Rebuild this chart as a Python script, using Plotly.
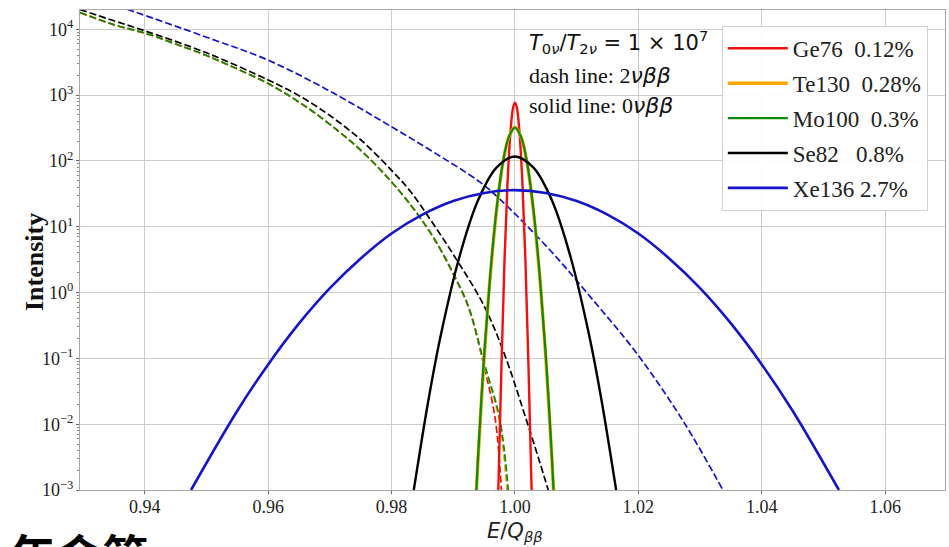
import plotly.graph_objects as go

# ---------------- 2νββ continua (dashed) ----------------
ge76_2v_x = [0.9295, 0.935, 0.94, 0.945, 0.95, 0.955, 0.96, 0.965, 0.97, 0.975, 0.98,
             0.984, 0.987, 0.99, 0.9925, 0.995, 0.9968, 0.9978]
ge76_2v_y = [1.8e4, 1.17e4, 8.7e3, 6.0e3, 4.0e3, 2.5e3, 1.5e3, 780, 360, 145, 48,
             16.5, 6.3, 1.9, 0.58, 0.075, 0.012, 0.001]

te130_2v_x = [0.9295, 0.935, 0.94, 0.945, 0.95, 0.955, 0.96, 0.965, 0.97, 0.975, 0.98,
              0.984, 0.987, 0.99, 0.9925, 0.995, 0.9974, 0.9987]
te130_2v_y = [1.8e4, 1.18e4, 8.8e3, 6.0e3, 4.0e3, 2.5e3, 1.5e3, 790, 360, 146, 48,
              16.6, 6.4, 1.95, 0.6, 0.082, 0.012, 0.001]

mo100_2v_x = [0.9295, 0.935, 0.94, 0.945, 0.95, 0.955, 0.96, 0.965, 0.97, 0.975, 0.98,
              0.984, 0.987, 0.99, 0.9925, 0.995, 0.9975, 0.9989]
mo100_2v_y = [1.8e4, 1.18e4, 8.8e3, 6.0e3, 4.0e3, 2.5e3, 1.5e3, 790, 360, 146, 48,
              16.6, 6.4, 1.95, 0.6, 0.085, 0.0125, 0.001]

se82_2v_x = [0.9295, 0.935, 0.94, 0.95, 0.96, 0.965, 0.97, 0.975, 0.98, 0.983,
             0.9865, 0.9905, 0.9948, 0.9981, 1.0024, 1.0054]
se82_2v_y = [2.0e4, 1.35e4, 9.5e3, 4.4e3, 1.7e3, 980, 490, 210, 72, 35,
             12, 3.2, 0.68, 0.13, 0.008, 0.001]

xe136_2v_x = [0.9295, 0.9376, 0.95, 0.96, 0.97, 0.98, 0.9867, 0.9943, 0.9976,
              1.0057, 1.0127, 1.0198, 1.0273, 1.0337]
xe136_2v_y = [3.5e4, 1.95e4, 7.6e3, 3.4e3, 1.15e3, 330, 138, 48, 26,
              4.4, 0.76, 0.117, 0.011, 0.001]

# ---------------- 0νββ peaks (solid) ----------------
ge76_0v_x = [0.9973, 0.9978, 0.9983, 0.9988, 0.9993, 0.9997, 1.0,
             1.0003, 1.0007, 1.0012, 1.0017, 1.0022, 1.0027]
ge76_0v_y = [0.001, 0.07, 3.0, 48, 300, 650, 770, 650, 300, 48, 3.0, 0.07, 0.001]

te130_0v_x = [0.99375, 0.994, 0.995, 0.996, 0.997, 0.998, 0.999, 1.0,
              1.001, 1.002, 1.003, 1.004, 1.005, 1.006, 1.00625]
te130_0v_y = [0.001, 0.0028, 0.1, 1.8, 17, 88, 230, 325,
              230, 88, 17, 1.8, 0.1, 0.0028, 0.001]

mo100_0v_x = [0.99375, 0.994, 0.995, 0.996, 0.997, 0.998, 0.999, 1.0,
              1.001, 1.002, 1.003, 1.004, 1.005, 1.006, 1.00625]
mo100_0v_y = [0.001, 0.003, 0.11, 1.9, 18, 90, 230, 320,
              230, 90, 18, 1.9, 0.11, 0.003, 0.001]

se82_0v_x = [0.9836, 0.986, 0.988, 0.991, 0.994, 0.997, 1.0,
             1.003, 1.006, 1.009, 1.012, 1.014, 1.0164]
se82_0v_y = [0.001, 0.024, 0.23, 3.5, 25, 79, 117, 79, 25, 3.5, 0.23, 0.024, 0.001]

xe136_0v_x = [0.9475, 0.955, 0.96, 0.965, 0.97, 0.975, 0.98, 0.985, 0.99, 0.995, 1.0,
              1.005, 1.01, 1.015, 1.02, 1.025, 1.03, 1.035, 1.04, 1.045, 1.0525]
xe136_0v_y = [0.001, 0.016, 0.081, 0.34, 1.17, 3.3, 7.9, 15.3, 24.6, 32.7, 36,
              32.7, 24.6, 15.3, 7.9, 3.3, 1.17, 0.34, 0.081, 0.016, 0.001]

labels = ["Ge76\u00a0\u00a00.12%", "Te130\u00a0\u00a00.28%", "Mo100\u00a0\u00a00.3%",
          "Se82\u00a0\u00a0\u00a00.8%", "Xe136\u00a02.7%"]
colors = ["#f01010", "#ffa500", "#0c8a0c", "#000000", "#1414c8"]

x_ticks = [0.94, 0.96, 0.98, 1.00, 1.02, 1.04, 1.06]
x_ticktext = ["0.94", "0.96", "0.98", "1.00", "1.02", "1.04", "1.06"]
y_ticks = [1e-3, 1e-2, 1e-1, 1e0, 1e1, 1e2, 1e3, 1e4]
y_ticktext = ["10<sup>\u22123</sup>", "10<sup>\u22122</sup>", "10<sup>\u22121</sup>",
              "10<sup>0</sup>", "10<sup>1</sup>", "10<sup>2</sup>",
              "10<sup>3</sup>", "10<sup>4</sup>"]

dashed = [(ge76_2v_x, ge76_2v_y), (te130_2v_x, te130_2v_y), (mo100_2v_x, mo100_2v_y),
          (se82_2v_x, se82_2v_y), (xe136_2v_x, xe136_2v_y)]
solid = [(ge76_0v_x, ge76_0v_y), (te130_0v_x, te130_0v_y), (mo100_0v_x, mo100_0v_y),
         (se82_0v_x, se82_0v_y), (xe136_0v_x, xe136_0v_y)]
solid_widths = [2.4, 3.4, 2.2, 2.4, 2.6]

fig = go.Figure()

for (xs, ys), c in zip(dashed, colors):
    fig.add_trace(go.Scatter(
        x=xs, y=ys, mode="lines", showlegend=False, hoverinfo="skip",
        line=dict(color=c, width=1.7, dash="7px,3px", shape="spline", smoothing=1.0)))

for i, ((xs, ys), c, lab, w) in enumerate(zip(solid, colors, labels, solid_widths)):
    fig.add_trace(go.Scatter(
        x=xs, y=ys, mode="lines", name=lab, legendgroup=f"g{i}",
        line=dict(color=c, width=w, shape="spline", smoothing=1.0)))

serif = "Liberation Serif"

fig.update_layout(
    width=949, height=547,
    margin=dict(l=80, r=4, t=10, b=57),
    paper_bgcolor="white", plot_bgcolor="white",
    font=dict(family=serif, size=18, color="#222"),
    showlegend=True,
    legend=dict(
        x=0.742, y=0.967, xanchor="left", yanchor="top",
        bgcolor="rgba(255,255,255,0.92)", bordercolor="#d0d0d0", borderwidth=1,
        font=dict(family=serif, size=23, color="#222"),
        itemwidth=60, tracegroupgap=2,
    ),
    xaxis=dict(
        range=[0.9295, 1.0697],
        tickvals=x_ticks, ticktext=x_ticktext,
        showgrid=True, gridcolor="#cccccc", gridwidth=1,
        showline=True, linecolor="#a8a8a8", linewidth=1, mirror=True,
        ticks="outside", ticklen=3, tickcolor="#666",
        ticklabelstandoff=-3,
        tickfont=dict(family=serif, size=18, color="#222"),
        zeroline=False,
    ),
    yaxis=dict(
        type="log", range=[-3, 4.294],
        tickvals=y_ticks, ticktext=y_ticktext,
        showgrid=True, gridcolor="#cccccc", gridwidth=1,
        showline=True, linecolor="#a8a8a8", linewidth=1, mirror=True,
        ticks="outside", ticklen=3, tickcolor="#666",
        ticklabelstandoff=-1,
        minor=dict(ticks="outside", ticklen=2, tickcolor="#888", dtick="D1", showgrid=False),
        tickfont=dict(family=serif, size=18, color="#222"),
        zeroline=False,
    ),
)

# Axis titles
fig.add_annotation(
    xref="paper", yref="paper", x=(515 - 80) / 865, y=(490 - 517) / 480,
    xanchor="center", yanchor="top", showarrow=False,
    text="<i>E</i>/<i>Q</i><sub><i>\u03b2\u03b2</i></sub>",
    font=dict(family="DejaVu Sans", size=21, color="#222"))
fig.add_annotation(
    xref="paper", yref="paper", x=(34 - 80) / 865, y=(490 - 262) / 480,
    xanchor="center", yanchor="middle", showarrow=False, textangle=-90,
    text="<b>Intensity</b>",
    font=dict(family=serif, size=26, color="#111"))

# Ratio and line-style notes
greek = '<span style="font-family:DejaVu Sans"><i>{}</i></span>'
fig.add_annotation(
    xref="paper", yref="paper", x=0.5168, y=(490 - 42) / 480,
    xanchor="left", yanchor="middle", showarrow=False, align="left",
    text="<i>T</i><sub>0<i>\u03bd</i></sub>/<i>T</i><sub>2<i>\u03bd</i></sub> = 1 \u00d7 10<sup>7</sup>",
    font=dict(family="DejaVu Sans", size=21, color="#111"))
fig.add_annotation(
    xref="paper", yref="paper", x=0.5168, y=(490 - 76) / 480,
    xanchor="left", yanchor="middle", showarrow=False, align="left",
    text="dash line: 2" + greek.format("\u03bd\u03b2\u03b2"),
    font=dict(family=serif, size=22, color="#111"))
fig.add_annotation(
    xref="paper", yref="paper", x=0.5168, y=(490 - 106) / 480,
    xanchor="left", yanchor="middle", showarrow=False, align="left",
    text="solid line: 0" + greek.format("\u03bd\u03b2\u03b2"),
    font=dict(family=serif, size=22, color="#111"))

# Caption text continuing below the figure
fig.add_annotation(
    xref="paper", yref="paper", x=(8 - 80) / 865, y=(490 - 518) / 480,
    xanchor="left", yanchor="top", showarrow=False,
    text="<b>\u5e74\u4f1a\u7b2c</b>",
    font=dict(family="Noto Sans CJK SC", size=46, color="#000"))

fig.write_html("out.html")
